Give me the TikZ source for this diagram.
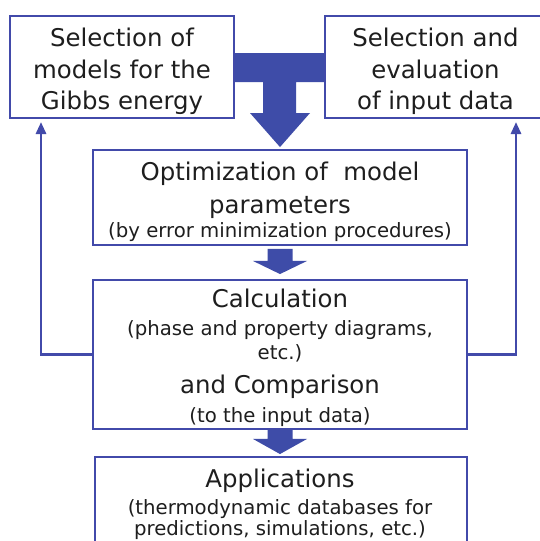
\documentclass[tikz,border=0pt]{standalone}
\usepackage{fontspec}
\setmainfont{DejaVu Sans}
\usetikzlibrary{calc,arrows.meta}
\definecolor{lineblue}{RGB}{66,74,170}
\definecolor{fillblue}{RGB}{62,76,168}
\definecolor{txt}{RGB}{30,30,30}
\tikzset{
  box/.style={draw=lineblue, line width=1.9pt, rectangle, inner sep=0pt},
  big/.style={anchor=base, inner sep=0pt, text=txt, font=\fontsize{24.4}{28}\selectfont},
  small/.style={anchor=base, inner sep=0pt, text=txt, font=\fontsize{19.7}{23}\selectfont},
  fatarrow/.style={fill=fillblue, draw=none},
  feedback/.style={draw=lineblue, line width=2.8pt, -{Triangle[length=12pt,width=10pt]}}
}
\begin{document}
\begin{tikzpicture}[x=1pt,y=-1pt]
\useasboundingbox (0,0) rectangle (540,541);
\fill[white] (0,0) rectangle (540,541);
% boxes
\node[box, minimum width=224pt, minimum height=102pt] (b1) at (122,67) {};
\node[box, minimum width=221pt, minimum height=102pt] (b2) at (435.5,67) {};
\node[box, minimum width=374pt, minimum height=95pt] (opt) at (280,197.5) {};
\node[box, minimum width=374pt, minimum height=149pt] (calc) at (280,354.5) {};
\node[box, minimum width=372pt, minimum height=110pt] (app) at (281,512) {};
% texts
\node[big] (t1a) at (122,46.5) {Selection of};
\node[big] (t1b) at (122,78.5) {models for the};
\node[big] (t1c) at (122,109.5) {Gibbs energy};
\node[big] (t2a) at (435.5,46.5) {Selection and};
\node[big] (t2b) at (435.5,78.5) {evaluation};
\node[big] (t2c) at (435.5,109.5) {of input data};
\node[big] (t3a) at (280,180.6) {Optimization of\ \ model};
\node[big] (t3b) at (280,213.3) {parameters};
\node[small] (t3c) at (280,237.5) {(by error minimization procedures)};
\node[big] (t4a) at (280,307) {Calculation};
\node[small] (t4b) at (280,335) {(phase and property diagrams,};
\node[small] (t4c) at (280,359) {etc.)};
\node[big] (t4d) at (280,393.6) {and Comparison};
\node[small] (t4e) at (280,422) {(to the input data)};
\node[big] (t5a) at (280,487) {Applications};
\node[small] (t5b) at (280,514.2) {(thermodynamic databases for};
\node[small] (t5c) at (280,535.5) {predictions, simulations, etc.)};
% T-shaped merging arrow
\fill[fatarrow] (b1.east |- 0,53) -- (b2.west |- 0,53) -- (b2.west |- 0,82)
  -- (296,82) -- (296,113) -- (310,113) -- ($(opt.north)+(0,-2)$) -- (250,113)
  -- (263,113) -- (263,82) -- (b1.east |- 0,82) -- cycle;
% small arrows
\fill[fatarrow] ($(opt.south)+(-12.5,3)$) -- ($(opt.south)+(12.5,3)$) -- ($(opt.south)+(12.5,15)$)
  -- ($(opt.south)+(27,15)$) -- ($(calc.north)+(0,-5)$) -- ($(opt.south)+(-27,15)$)
  -- ($(opt.south)+(-12.5,15)$) -- cycle;
\fill[fatarrow] ($(calc.south)+(-12.5,0)$) -- ($(calc.south)+(12.5,0)$) -- ($(calc.south)+(12.5,9)$)
  -- ($(calc.south)+(27,9)$) -- ($(app.north)+(-1,-2)$) -- ($(calc.south)+(-27,9)$)
  -- ($(calc.south)+(-12.5,9)$) -- cycle;
% feedback lines
\coordinate (fl) at (41,122);
\coordinate (fr) at (516,122);
\draw[feedback] (calc.west) -| (fl);
\draw[feedback] (calc.east) -| (fr);
\end{tikzpicture}
\end{document}
